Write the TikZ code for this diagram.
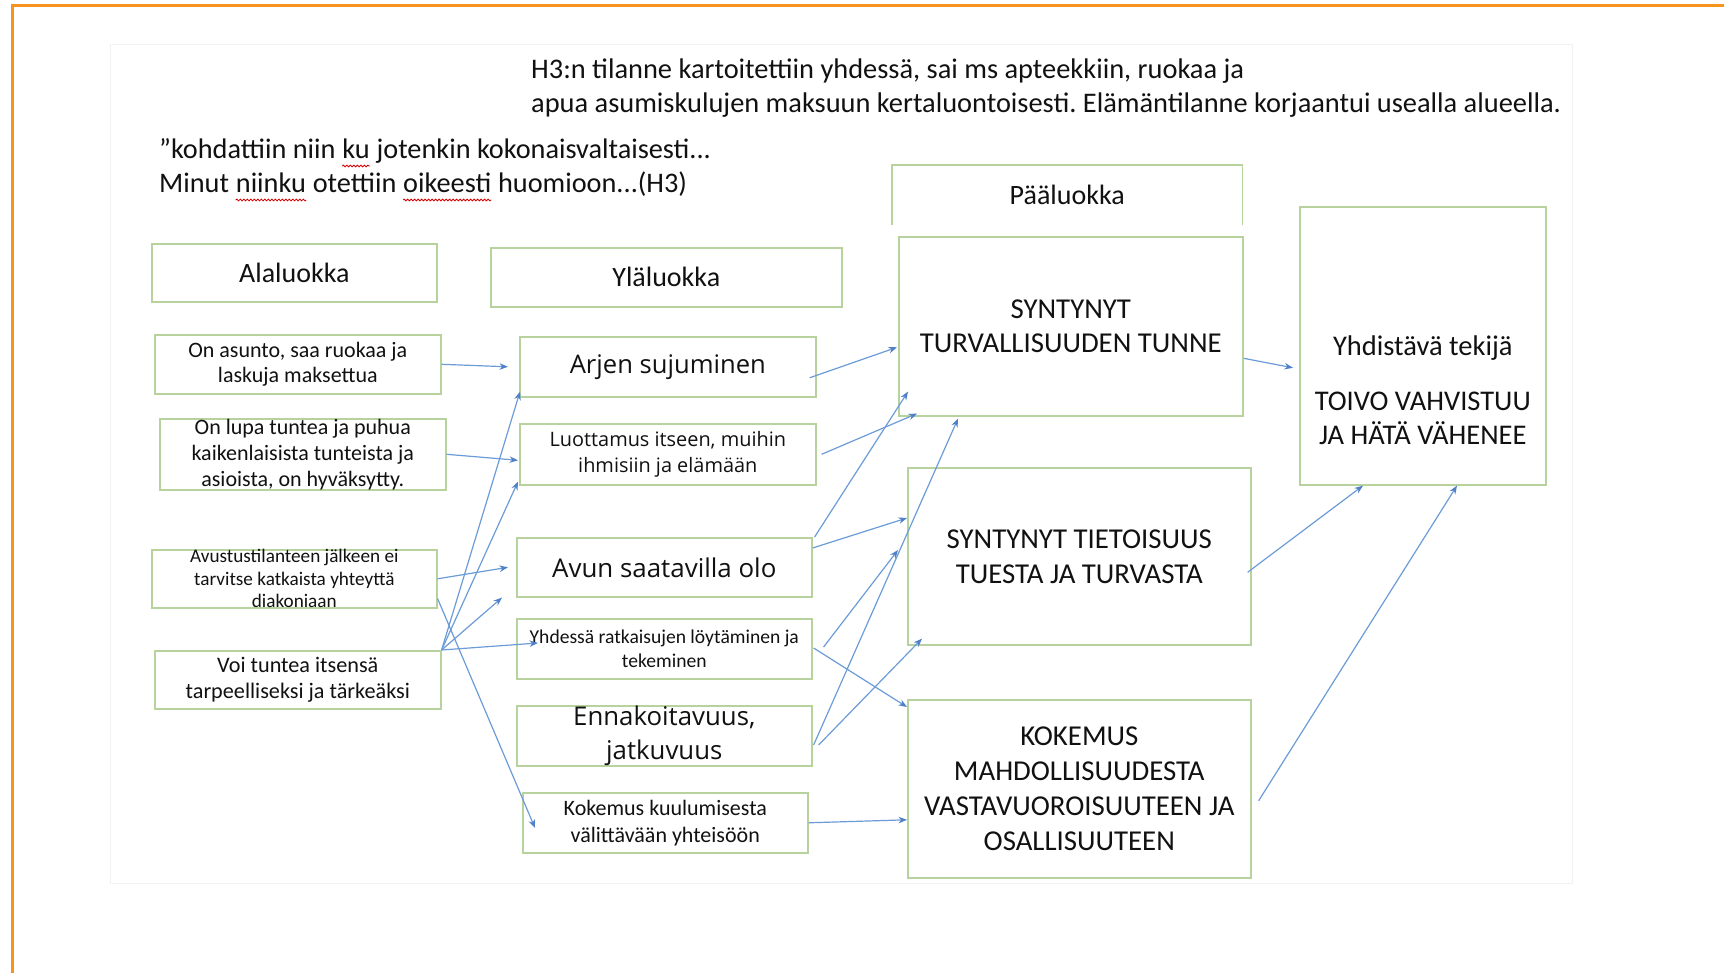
\documentclass[tikz,border=0pt]{standalone}
\usepackage{fontspec}
\setmainfont{Carlito}
\newfontfamily\wide{Open Sans}
\usetikzlibrary{arrows.meta,decorations.pathmorphing}
\definecolor{boxgreen}{HTML}{B7D29D}
\definecolor{arrblue}{HTML}{6C9CD8}
\definecolor{tipblue}{HTML}{4F80C8}
\definecolor{orng}{HTML}{F7941E}
\definecolor{txt}{HTML}{111111}
\newcommand{\fs}[2]{\fontsize{#1}{#2}\selectfont}
\frenchspacing
\begin{document}
\begin{tikzpicture}[x=1pt,y=-1pt,
  frame/.style={draw=boxgreen, line width=1.6pt, fill=white, anchor=north west, inner sep=0pt},
  lbl/.style={align=center, text=txt, inner sep=0pt},
  plain/.style={text=txt, inner sep=0pt, anchor=base west},
  qtext/.style={plain, font=\fs{28.3}{34}},
  wave/.style={draw=red!85!black, line width=0.8pt, decorate, decoration={snake, amplitude=0.9pt, segment length=3.5pt}},
  arr/.style={draw=arrblue, line width=1.2pt, -{Stealth[length=8.5pt,width=6.5pt,color=tipblue]}},
]
\useasboundingbox (0,0) rectangle (1724,973);
\fill[white] (0,0) rectangle (1724,973);
% faint slide outline
\draw[black!5, line width=0.8pt] (110,44) rectangle (1572,883);
% orange frame lines
\draw[orng, line width=3pt] (12,973) -- (12,6) -- (1724,6);

% header texts
\node[plain, font=\fs{28.4}{34}] (hdr1) at (531,79) {H3:n tilanne kartoitettiin yhdessä, sai ms apteekkiin, ruokaa ja};
\node[plain, font=\fs{28.4}{34}] (hdr2) at (531,113) {apua asumiskulujen maksuun kertaluontoisesti. Elämäntilanne korjaantui usealla alueella.};

% quote, split so that the spell-check waves sit under their words
\node[qtext] (q1a) at (159,159) {”kohdattiin niin};
\node[qtext] (q1b) at ([xshift=6.4pt]q1a.base east) {ku};
\node[qtext] (q1c) at ([xshift=6.4pt]q1b.base east) {jotenkin kokonaisvaltaisesti...};
\node[qtext] (q2a) at (159,193) {Minut};
\node[qtext] (q2b) at ([xshift=6.4pt]q2a.base east) {niinku};
\node[qtext] (q2c) at ([xshift=6.4pt]q2b.base east) {otettiin};
\node[qtext] (q2d) at ([xshift=6.4pt]q2c.base east) {oikeesti};
\node[qtext] (q2e) at ([xshift=6.4pt]q2d.base east) {huomioon...(H3)};
\draw[wave] ([yshift=-7pt]q1b.base west) -- ([yshift=-7pt]q1b.base east);
\draw[wave] ([yshift=-7pt]q2b.base west) -- ([yshift=-7pt]q2b.base east);
\draw[wave] ([yshift=-7pt]q2d.base west) -- ([yshift=-7pt]q2d.base east);

% column headers
\node[frame, minimum width=285pt, minimum height=58pt] (ala) at (151,243) {};
\node[lbl, font=\fs{28}{34}] (ala-t) at (ala.center) {Alaluokka};
\node[frame, minimum width=351pt, minimum height=59pt] (yla) at (490,247) {};
\node[lbl, font=\fs{28}{34}] (yla-t) at (yla.center) {Yläluokka};
\node[anchor=north west, inner sep=0pt, minimum width=350pt, minimum height=60pt] (paa) at (892,165) {};
\draw[boxgreen, line width=1.6pt] (paa.south west) -- (paa.north west) -- (paa.north east) -- (paa.south east);
\node[lbl, font=\fs{28}{34}] (paa-t) at (paa.center) {Pääluokka};

% main categories
\node[frame, minimum width=344pt, minimum height=179pt] (turv) at (898,236) {};
\node[lbl, font=\fs{28.8}{34}] (turv-t) at (turv.center) {SYNTYNYT\\TURVALLISUUDEN TUNNE};
\node[frame, minimum width=246pt, minimum height=278pt] (yhdist) at (1299,206) {};
\node[lbl, font=\fs{28.5}{34}] (yhdist-t) at ([yshift=-44pt]yhdist.center) {Yhdistävä tekijä\\[21pt]TOIVO VAHVISTUU\\JA HÄTÄ VÄHENEE};
\node[frame, minimum width=343pt, minimum height=177pt] (tiet) at (907,467) {};
\node[lbl, font=\fs{28.8}{35}] (tiet-t) at (tiet.center) {SYNTYNYT TIETOISUUS\\TUESTA JA TURVASTA};
\node[frame, minimum width=343pt, minimum height=178pt] (kok) at (907,699) {};
\node[lbl, font=\fs{28.8}{35}] (kok-t) at (kok.center) {KOKEMUS\\MAHDOLLISUUDESTA\\VASTAVUOROISUUTEEN JA\\OSALLISUUTEEN};

% sub categories
\node[frame, minimum width=286pt, minimum height=59pt] (asunto) at (154,334) {};
\node[lbl, font=\fs{22}{25.5}] (asunto-t) at (asunto.center) {On asunto, saa ruokaa ja\\laskuja maksettua};
\node[frame, minimum width=286pt, minimum height=71pt] (lupa) at (159,418) {};
\node[lbl, font=\fs{22}{26}] (lupa-t) at (lupa.center) {On lupa tuntea ja puhua\\kaikenlaisista tunteista ja\\asioista, on hyväksytty.};
\node[frame, minimum width=285pt, minimum height=58pt] (avust) at (151,549) {};
\node[lbl, font=\fs{19.2}{22.5}] (avust-t) at (avust.center) {Avustustilanteen jälkeen ei\\tarvitse katkaista yhteyttä\\diakoniaan};
\node[frame, minimum width=286pt, minimum height=58pt] (voi) at (154,650) {};
\node[lbl, font=\fs{22.2}{26.5}] (voi-t) at (voi.center) {Voi tuntea itsensä\\tarpeelliseksi ja tärkeäksi};

% upper categories
\node[frame, minimum width=296pt, minimum height=60pt] (arjen) at (519,336) {};
\node[lbl, font=\wide\fs{25.6}{30}] (arjen-t) at (arjen.center) {Arjen sujuminen};
\node[frame, minimum width=296pt, minimum height=61pt] (luott) at (519,423) {};
\node[lbl, font=\wide\fs{19.9}{26}] (luott-t) at (luott.center) {Luottamus itseen, muihin\\ihmisiin ja elämään};
\node[frame, minimum width=295pt, minimum height=59pt] (avun) at (516,537) {};
\node[lbl, font=\wide\fs{25.9}{30}] (avun-t) at (avun.center) {Avun saatavilla olo};
\node[frame, minimum width=295pt, minimum height=60pt] (yhd) at (516,618) {};
\node[lbl, font=\fs{19.6}{24}] (yhd-t) at (yhd.center) {Yhdessä ratkaisujen löytäminen ja\\tekeminen};
\node[frame, minimum width=295pt, minimum height=60pt] (enn) at (516,705) {};
\node[lbl, font=\wide\fs{25.8}{34}] (enn-t) at (enn.center) {Ennakoitavuus,\\jatkuvuus};
\node[frame, minimum width=285pt, minimum height=60pt] (kuul) at (522,792) {};
\node[lbl, font=\fs{22}{27}] (kuul-t) at (kuul.center) {Kokemus kuulumisesta\\välittävään yhteisöön};

% connectors: sub -> upper
\draw[arr] (asunto.east) -- ([xshift=-11pt]arjen.west);
\draw[arr] (lupa.east) -- ([xshift=-1pt,yshift=-6pt]luott.west);
\draw[arr] (avust.east) -- ([xshift=-8pt]avun.west);
\draw[arr] (voi.north east) -- ([xshift=1pt,yshift=6pt]arjen.south west);
\draw[arr] (voi.north east) -- ([xshift=-1pt,yshift=4pt]luott.south west);
\draw[arr] (voi.north east) -- ([xshift=-14pt]avun.south west);
\draw[arr] (voi.north east) -- ([xshift=22pt,yshift=-25pt]yhd.north west);
\draw[arr] ([yshift=10pt]avust.south east) -- ([xshift=13pt,yshift=-36pt]kuul.north west);

% connectors: upper -> main
\draw[arr] ([xshift=-7pt,yshift=-11pt]arjen.east) -- ([xshift=-1pt,yshift=-21pt]turv.west);
\draw[arr] ([xshift=5pt]luott.east) -- ([xshift=19pt,yshift=3pt]turv.south west);
\draw[arr] ([xshift=2pt]avun.north east) -- ([xshift=10pt,yshift=25pt]turv.south west);
\draw[arr] ([yshift=-11pt]avun.north east) -- ([yshift=-51pt]tiet.north west);
\draw[arr] ([xshift=11pt,yshift=-29pt]yhd.north east) -- ([xshift=-9pt,yshift=-83pt]tiet.north west);
\draw[arr] ([xshift=1pt,yshift=-30pt]yhd.north east) -- ([yshift=-8pt]kok.north west);
\draw[arr] ([xshift=1pt,yshift=-40pt]enn.north east) -- ([xshift=60pt,yshift=-2pt]turv.south west);
\draw[arr] ([xshift=6pt,yshift=-40pt]enn.north east) -- ([xshift=15pt,yshift=7pt]tiet.south west);
\draw[arr] (kuul.east) -- ([yshift=-31pt]kok.west);

% connectors: main -> connecting factor
\draw[arr] ([yshift=-32pt]turv.east) -- ([xshift=-6pt,yshift=-22pt]yhdist.west);
\draw[arr] ([xshift=-4pt,yshift=-16pt]tiet.east) -- ([xshift=64pt]yhdist.south west);
\draw[arr] ([xshift=7pt,yshift=-12pt]kok.east) -- ([xshift=158pt]yhdist.south west);
\end{tikzpicture}
\end{document}
